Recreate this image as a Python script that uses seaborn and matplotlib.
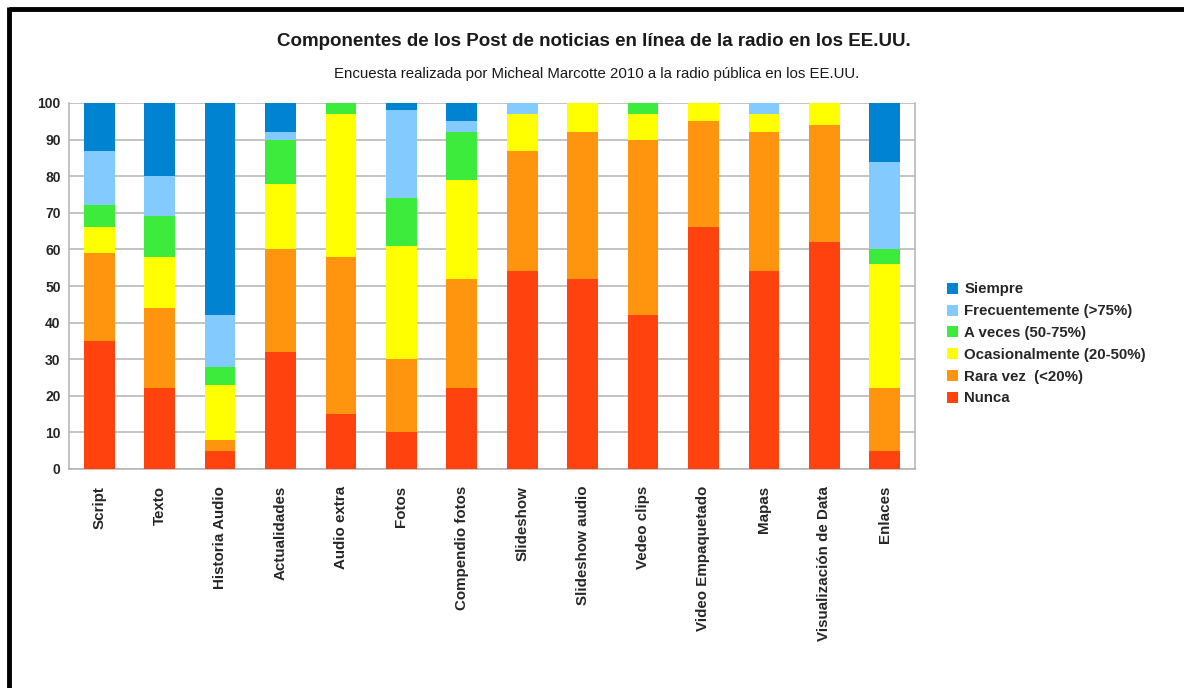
import matplotlib
matplotlib.use("Agg")
import matplotlib.pyplot as plt
import seaborn as sns
import numpy as np
import pandas as pd
from matplotlib.patches import Patch
from matplotlib.lines import Line2D

# categorias y series
categorias = ["Script", "Texto", "Historia Audio", "Actualidades", "Audio extra", "Fotos",
              "Compendio fotos", "Slideshow", "Slideshow audio", "Vedeo clips",
              "Video Empaquetado", "Mapas", "Visualización de Data", "Enlaces"]

nunca = [35, 22, 5, 32, 15, 10, 22, 54, 52, 42, 66, 54, 62, 5]
rara_vez = [24, 22, 3, 28, 43, 20, 30, 33, 40, 48, 29, 38, 32, 17]
ocasionalmente = [7, 14, 15, 18, 39, 31, 27, 10, 8, 7, 5, 5, 6, 34]
a_veces = [6, 11, 5, 12, 3, 13, 13, 0, 0, 3, 0, 0, 0, 4]
frecuentemente = [15, 11, 14, 2, 0, 24, 3, 3, 0, 0, 0, 3, 0, 24]
siempre = [13, 20, 58, 8, 0, 2, 5, 0, 0, 0, 0, 0, 0, 16]

series = ["Nunca", "Rara vez  (<20%)", "Ocasionalmente (20-50%)", "A veces (50-75%)",
          "Frecuentemente (>75%)", "Siempre"]
valores = [nunca, rara_vez, ocasionalmente, a_veces, frecuentemente, siempre]
colores = ["#ff420e", "#ff950e", "#ffff00", "#3deb3d", "#83caff", "#0084d1"]

sns.set_style("white")
plt.rcParams['font.family'] = ['Liberation Sans', 'DejaVu Sans']

fig = plt.figure(figsize=(11.84, 6.88), dpi=100)
ax = fig.add_axes([69 / 1184, 1 - 469 / 688, (915 - 69) / 1184, (469 - 103) / 688])

# barras apiladas
base = np.zeros(len(categorias))
for nombre, vals, col in zip(series, valores, colores):
    df = pd.DataFrame({"cat": categorias, "val": vals})
    sns.barplot(data=df, x="cat", y="val", color=col, bottom=base, width=0.51,
                saturation=1, ax=ax, linewidth=0, zorder=3)
    base = base + np.array(vals)

ax.set_ylim(0, 100)
ax.set_xlim(-0.5, len(categorias) - 0.5)
ax.set_yticks(range(0, 101, 10))
ax.yaxis.grid(True, color="#b3b3b3", linewidth=1.1, zorder=0)
ax.set_axisbelow(True)
ax.set_xlabel("")
ax.set_ylabel("")

for lado in ["left", "bottom", "right"]:
    ax.spines[lado].set_visible(True)
    ax.spines[lado].set_color("#b3b3b3")
    ax.spines[lado].set_linewidth(1.1)
ax.spines["top"].set_visible(False)

ax.tick_params(axis="y", length=4, color="#b3b3b3", width=1, pad=2, labelsize=10)
for t in ax.get_yticklabels():
    t.set_fontweight("bold")

# etiquetas del eje x rotadas, marcas en los limites de cada categoria
ax.set_xticks(range(len(categorias)))
ax.set_xticklabels(categorias, rotation=90, fontsize=10.9, fontweight="bold", va="top")
ax.tick_params(axis="x", which="major", length=0, pad=12)
ax.set_xticks(np.arange(-0.5, len(categorias), 1), minor=True)
ax.tick_params(axis="x", which="minor", length=4, color="#b3b3b3", width=1)

# titulos
fig.text(594 / 1184, 1 - 41 / 688, "Componentes de los Post de noticias en línea de la radio en los EE.UU.",
         ha="center", va="center", fontsize=13.5, fontweight="bold", color="#1a1a1a")
fig.text(597 / 1184, 1 - 74 / 688, "Encuesta realizada por Micheal Marcotte 2010 a la radio pública en los EE.UU.",
         ha="center", va="center", fontsize=10.8, color="#1a1a1a")

# leyenda (orden invertido: Siempre arriba)
handles = [Patch(facecolor=c, edgecolor="none") for c in colores[::-1]]
leg = fig.legend(handles, series[::-1], loc="center left",
                 bbox_to_anchor=(947 / 1184, 1 - 344 / 688), frameon=False,
                 prop={"weight": "bold", "size": 10.8}, handlelength=0.75, handleheight=0.75,
                 handletextpad=0.4, labelspacing=0.52, borderaxespad=0, borderpad=0)

# marco negro del documento (arriba e izquierda)
fig.add_artist(Line2D([9 / 1184, 1.0], [1 - 9 / 688, 1 - 9 / 688], color="black", linewidth=3.5,
                      transform=fig.transFigure, solid_capstyle="butt"))
fig.add_artist(Line2D([9 / 1184, 9 / 1184], [1 - 7 / 688, 0.0], color="black", linewidth=3.5,
                      transform=fig.transFigure, solid_capstyle="butt"))

fig.savefig("out.png", dpi=100, facecolor="white")
